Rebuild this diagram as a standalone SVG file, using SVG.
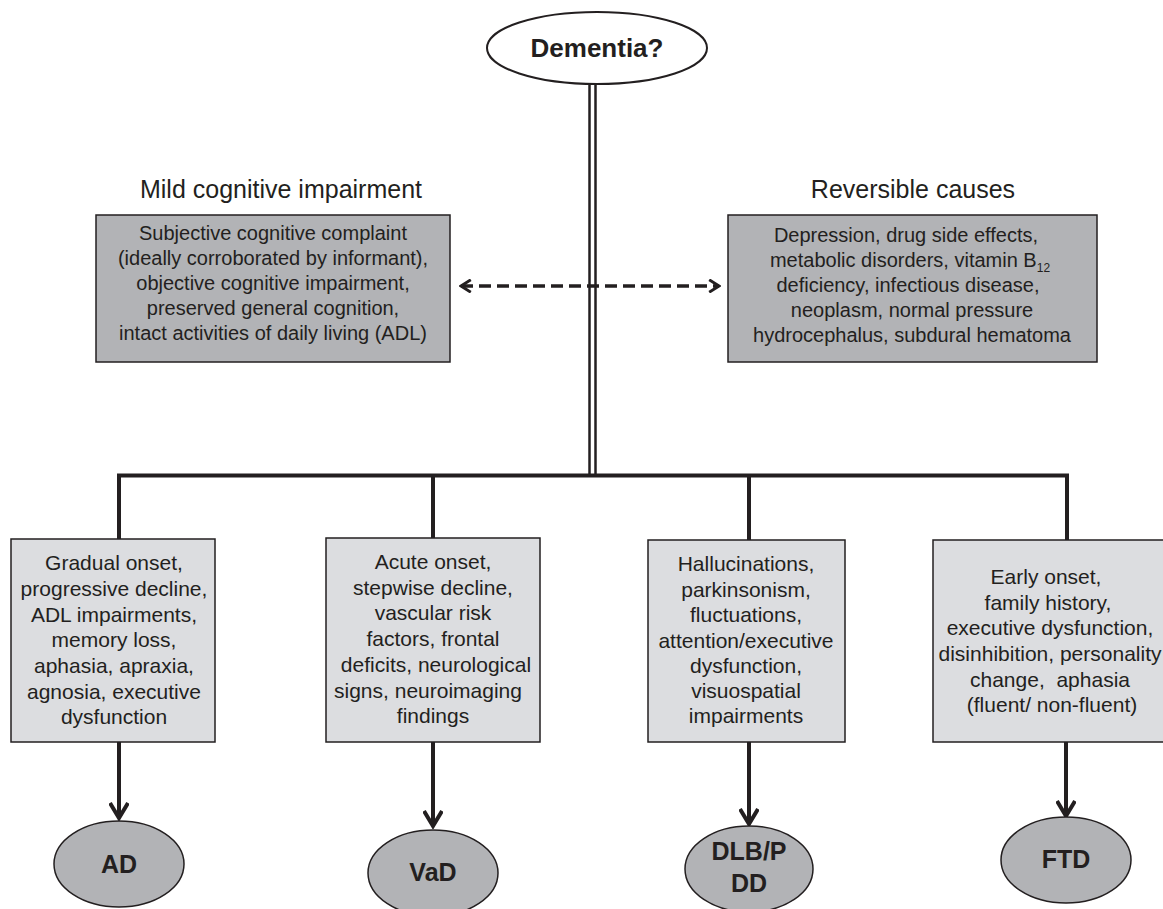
<svg xmlns="http://www.w3.org/2000/svg" width="1163" height="909" viewBox="0 0 1163 909">
<style>
text{font-family:"Liberation Sans",Arial,sans-serif;fill:#231f20;text-anchor:middle}
.t{font-size:20px}
.b{font-size:21px}
.h{font-size:25px}
.e{font-size:25px;font-weight:bold}
.dk{fill:#b2b3b6;stroke:#231f20;stroke-width:1.5}
.lt{fill:#dcdde0;stroke:#231f20;stroke-width:1.5}
.ln{fill:none;stroke:#231f20;stroke-width:4}
.dbl{fill:none;stroke:#231f20;stroke-width:2.5}
</style>
<defs>
<marker id="ah" viewBox="0 0 20 20" refX="17" refY="10" markerWidth="5" markerHeight="5" markerUnits="strokeWidth" orient="auto-start-reverse">
<path d="M2,1 L17,10 L2,19" fill="none" stroke="#231f20" stroke-width="4"/>
</marker>
<marker id="ad" viewBox="0 0 20 20" refX="17" refY="10" markerWidth="4" markerHeight="4" markerUnits="strokeWidth" orient="auto-start-reverse">
<path d="M3,1 L17,10 L3,19" fill="none" stroke="#231f20" stroke-width="4"/>
</marker>
</defs>
<g id="connectors">
<line class="dbl" x1="589.5" y1="84" x2="589.5" y2="474"/>
<line class="dbl" x1="595.5" y1="84" x2="595.5" y2="474"/>
<path class="ln" d="M119,539 V475.5 H1067 V540"/>
<line class="ln" x1="433" y1="475.5" x2="433" y2="538"/>
<line class="ln" x1="749" y1="475.5" x2="749" y2="540"/>
<line x1="461" y1="286" x2="719" y2="286" stroke="#231f20" stroke-width="3.5" stroke-dasharray="12,6" marker-start="url(#ad)" marker-end="url(#ad)"/>
<line class="ln" x1="119" y1="742" x2="119" y2="818" marker-end="url(#ah)"/>
<line class="ln" x1="433" y1="742" x2="433" y2="826" marker-end="url(#ah)"/>
<line class="ln" x1="749" y1="742" x2="749" y2="824" marker-end="url(#ah)"/>
<line class="ln" x1="1066" y1="742" x2="1066" y2="816" marker-end="url(#ah)"/>
</g>
<g id="dementia">
<ellipse cx="597" cy="48" rx="110" ry="36" fill="#fff" stroke="#231f20" stroke-width="2"/>
<text class="e" x="597" y="57" style="font-size:26px">Dementia?</text>
</g>
<g id="mci">
<text class="h" x="281" y="198">Mild cognitive impairment</text>
<rect class="dk" x="96" y="215" width="354" height="147"/>
<text class="t" x="273" y="240">Subjective cognitive complaint</text>
<text class="t" x="273" y="265">(ideally corroborated by informant),</text>
<text class="t" x="273" y="290">objective cognitive impairment,</text>
<text class="t" x="273" y="315">preserved general cognition,</text>
<text class="t" x="273" y="340">intact activities of daily living (ADL)</text>
</g>
<g id="reversible">
<text class="h" x="913" y="198">Reversible causes</text>
<rect class="dk" x="728" y="215" width="369" height="147"/>
<text class="t" x="906" y="242">Depression, drug side effects,</text>
<text class="t" x="910" y="267">metabolic disorders, vitamin B<tspan font-size="12" dy="5">12</tspan></text>
<text class="t" x="908" y="292">deficiency, infectious disease,</text>
<text class="t" x="912" y="317">neoplasm, normal pressure</text>
<text class="t" x="912" y="342">hydrocephalus, subdural hematoma</text>
</g>
<g id="box-ad">
<rect class="lt" x="11" y="539" width="204" height="203"/>
<text class="b" x="114" y="570">Gradual onset,</text>
<text class="b" x="114" y="596">progressive decline,</text>
<text class="b" x="114" y="622">ADL impairments,</text>
<text class="b" x="114" y="647">memory loss,</text>
<text class="b" x="114" y="673">aphasia, apraxia,</text>
<text class="b" x="114" y="699">agnosia, executive</text>
<text class="b" x="114" y="724">dysfunction</text>
</g>
<g id="box-vad">
<rect class="lt" x="326" y="538" width="214" height="204"/>
<text class="b" x="433" y="569">Acute onset,</text>
<text class="b" x="433" y="595">stepwise decline,</text>
<text class="b" x="433" y="620">vascular risk</text>
<text class="b" x="433" y="646">factors, frontal</text>
<text class="b" x="436" y="672">deficits, neurological</text>
<text class="b" x="428" y="698">signs, neuroimaging</text>
<text class="b" x="433" y="723">findings</text>
</g>
<g id="box-dlb">
<rect class="lt" x="648" y="540" width="197" height="202"/>
<text class="b" x="746" y="571">Hallucinations,</text>
<text class="b" x="746" y="597">parkinsonism,</text>
<text class="b" x="746" y="622">fluctuations,</text>
<text class="b" x="746" y="648">attention/executive</text>
<text class="b" x="746" y="673">dysfunction,</text>
<text class="b" x="746" y="698">visuospatial</text>
<text class="b" x="746" y="723">impairments</text>
</g>
<g id="box-ftd">
<rect class="lt" x="933" y="540" width="236" height="202"/>
<text class="b" x="1046" y="584">Early onset,</text>
<text class="b" x="1048" y="610">family history,</text>
<text class="b" x="1050" y="635">executive dysfunction,</text>
<text class="b" x="1050" y="661">disinhibition, personality</text>
<text class="b" x="1050" y="687" xml:space="preserve">change,  aphasia</text>
<text class="b" x="1052" y="712">(fluent/ non-fluent)</text>
</g>
<g id="ad">
<ellipse class="dk" cx="119" cy="864" rx="65" ry="43"/>
<text class="e" x="119" y="873">AD</text>
</g>
<g id="vad">
<ellipse class="dk" cx="433" cy="873" rx="65" ry="43"/>
<text class="e" x="433" y="881">VaD</text>
</g>
<g id="dlb">
<ellipse class="dk" cx="749" cy="869" rx="64" ry="43"/>
<text class="e" x="749" y="860">DLB/P</text>
<text class="e" x="749" y="892">DD</text>
</g>
<g id="ftd">
<ellipse class="dk" cx="1066" cy="860" rx="65" ry="43"/>
<text class="e" x="1066" y="868">FTD</text>
</g>
</svg>
